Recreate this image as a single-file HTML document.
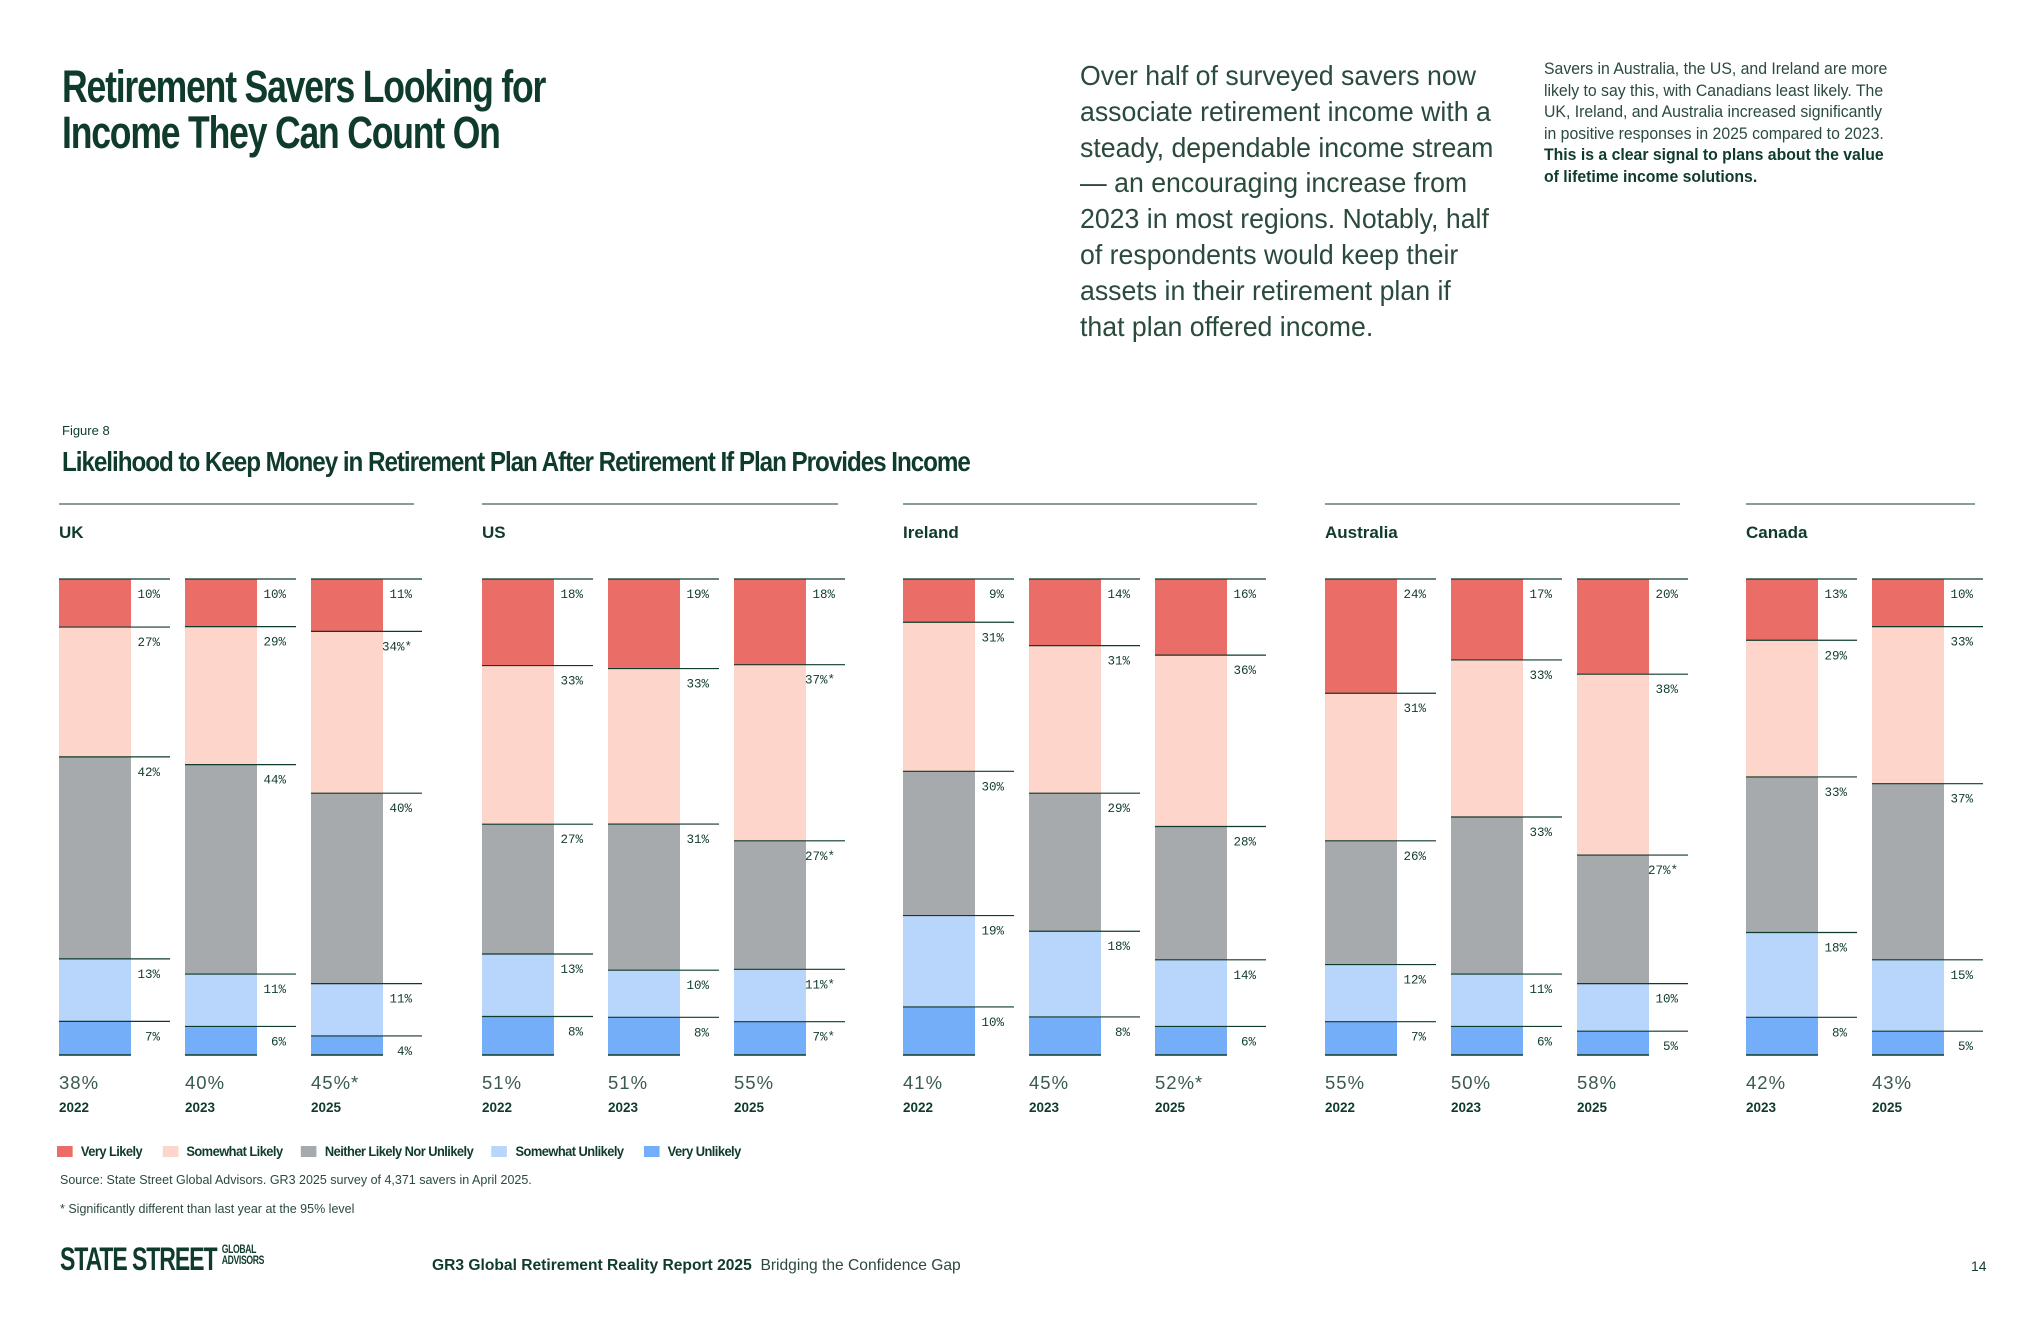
<!DOCTYPE html>
<html><head><meta charset="utf-8">
<style>
*{margin:0;padding:0;box-sizing:border-box}
body{width:2040px;height:1320px;background:#fff;position:relative;overflow:hidden;font-family:"Liberation Sans",sans-serif;color:#0f3b2b}
.abs{position:absolute}
.cond{font-family:"Liberation Sans Narrow","Liberation Sans",sans-serif;font-weight:bold;letter-spacing:-1px}
</style></head><body>
<div class="abs cond" style="left:62px;top:64px;font-size:45px;line-height:46px;letter-spacing:-1.5px;transform:scaleX(0.79);transform-origin:0 0;white-space:nowrap">Retirement Savers Looking for<br>Income They Can Count On</div>
<div class="abs" style="left:1080px;top:58px;font-size:27.8px;line-height:35.8px;color:#2a4a3c;white-space:nowrap;transform:scaleX(0.96);transform-origin:0 0">Over half of surveyed savers now<br>associate retirement income with a<br>steady, dependable income stream<br>— an encouraging increase from<br>2023 in most regions. Notably, half<br>of respondents would keep their<br>assets in their retirement plan if<br>that plan offered income.</div>
<div class="abs" style="left:1544px;top:59px;font-size:16.3px;line-height:21.6px;color:#2a4a3c;white-space:nowrap;transform:scaleX(0.97);transform-origin:0 0">Savers in Australia, the US, and Ireland are more<br>likely to say this, with Canadians least likely. The<br>UK, Ireland, and Australia increased significantly<br>in positive responses in 2025 compared to 2023.<br><b style="color:#0f3b2b">This is a clear signal to plans about the value<br>of lifetime income solutions.</b></div>
<div class="abs" style="left:62px;top:423px;font-size:13px">Figure 8</div>
<div class="abs cond" style="left:62px;top:446px;font-size:28px;letter-spacing:-1.2px;transform:scaleX(0.865);transform-origin:0 0;white-space:nowrap">Likelihood to Keep Money in Retirement Plan After Retirement If Plan Provides Income</div>
<svg id="chart" class="abs" style="left:0;top:0" width="2040" height="1320"></svg>
<div class="abs" style="left:57px;top:1143px;display:flex;font-size:15px;transform:scaleX(0.92);transform-origin:0 0;white-space:nowrap" id="legend"></div>
<div class="abs" style="left:60px;top:1173px;font-size:12.5px;color:#2a4a3c">Source: State Street Global Advisors. GR3 2025 survey of 4,371 savers in April 2025.</div>
<div class="abs" style="left:60px;top:1202px;font-size:12.5px;color:#2a4a3c">* Significantly different than last year at the 95% level</div>
<div class="abs cond" style="left:60px;top:1244px;font-size:32px;letter-spacing:-1.5px;line-height:30px;transform:scaleX(0.72);transform-origin:0 0;white-space:nowrap">STATE STREET <span style="display:inline-block;font-size:12px;line-height:11px;vertical-align:top;letter-spacing:-0.5px">GLOBAL<br>ADVISORS</span></div>
<div class="abs" style="left:432px;top:1257px;font-size:15.6px"><b>GR3 Global Retirement Reality Report 2025</b>&nbsp; <span style="color:#2a4a3c">Bridging the Confidence Gap</span></div>
<div class="abs" style="left:1971px;top:1258px;font-size:14px">14</div>
<script>
const countries=["UK","US","Ireland","Australia","Canada"];
const years=[["2022","2023","2025"],["2022","2023","2025"],["2022","2023","2025"],["2022","2023","2025"],["2023","2025"]];
const veryLikely=[[10,10,11],[18,19,18],[9,14,16],[24,17,20],[13,10]];
const somewhatLikely=[[27,29,34],[33,33,37],[31,31,36],[31,33,38],[29,33]];
const neither=[[42,44,40],[27,31,27],[30,29,28],[26,33,27],[33,37]];
const somewhatUnlikely=[[13,11,11],[13,10,11],[19,18,14],[12,11,10],[18,15]];
const veryUnlikely=[[7,6,4],[8,8,7],[10,8,6],[7,6,5],[8,5]];
const sigFlags=[[["","","","",""],["","","","",""],["","*","","",""]],[["","","","",""],["","","","",""],["","*","*","*","*"]],[["","","","",""],["","","","",""],["","","","",""]],[["","","","",""],["","","","",""],["","","*","",""]],[["","","","",""],["","","","",""]]];
const totals=[["38%","40%","45%*"],["51%","51%","55%"],["41%","45%","52%*"],["55%","50%","58%"],["42%","43%"]];
const seriesNames=["Very Likely","Somewhat Likely","Neither Likely Nor Unlikely","Somewhat Unlikely","Very Unlikely"];
const colors=["#EA6D68","#FDD5CA","#A7AAAD","#B8D5FC","#75AEF8"];
const NS="http://www.w3.org/2000/svg";
const svg=document.getElementById('chart');
const groupX=[59,482,903,1325,1746], groupW=[355,356,354,355,229];
const barW=72, step=126, yTop=579, yBottom=1055;
function yScale(frac){return yTop+frac*(yBottom-yTop);}
function mk(tag,attrs){const e=document.createElementNS(NS,tag);for(const k in attrs)e.setAttribute(k,attrs[k]);svg.appendChild(e);return e;}
countries.forEach((c,gi)=>{
  const gl=mk('line',{x1:groupX[gi],x2:groupX[gi]+groupW[gi],y1:504,y2:504,stroke:'#0f3b2b','stroke-width':1});
  
  
  const ct=mk('text',{x:groupX[gi],y:538,'font-size':17,'font-weight':'bold',fill:'#0f3b2b','font-family':'Liberation Sans'});
  ct.textContent=c;
  
  
  years[gi].forEach((yr,bi)=>{
    const vals=[veryLikely[gi][bi],somewhatLikely[gi][bi],neither[gi][bi],somewhatUnlikely[gi][bi],veryUnlikely[gi][bi]];
    const sum=vals.reduce((a,b)=>a+b,0);
    const x=groupX[gi]+bi*step;
    let acc=0;
    vals.forEach((v,si)=>{
      const y0=yScale(acc/sum), y1=yScale((acc+v)/sum);
      const r=mk('rect',{x:x,y:y0,width:barW,height:y1-y0,fill:colors[si]});
      
      
      const l=mk('line',{x1:x,x2:x+barW+39,y1:y0,y2:y0,stroke:'#0f3b2b','stroke-width':1.2});
      
      
      const t=mk('text',{x:x+101,y:y0+19,'font-size':12.5,fill:'#0f3b2b','text-anchor':'end','font-family':'Liberation Mono'});
      t.textContent=v+'%'+sigFlags[gi][bi][si];
      
      
      acc+=v;
    });
    const bl=mk('line',{x1:x,x2:x+barW,y1:yBottom,y2:yBottom,stroke:'#0f3b2b','stroke-width':1.5});
    
    
    const tt=mk('text',{x:x,y:1089,'font-size':18.5,fill:'#3a5a4c','font-family':'Liberation Sans','letter-spacing':'1'});
    tt.textContent=totals[gi][bi];
    
    
    const yt=mk('text',{x:x,y:1112,'font-size':13.5,'font-weight':'bold',fill:'#0f3b2b','font-family':'Liberation Sans'});
    yt.textContent=yr;
    
    
  });
});
const lg=document.getElementById('legend');
seriesNames.forEach((n,i)=>{
  const d=document.createElement('div');
  
  
  d.style.cssText='display:flex;align-items:center;margin-right:'+[22,20,20,22,0][i]+'px';
  d.innerHTML='<span style="display:inline-block;width:17px;height:11px;background:'+colors[i]+';margin-right:9px"></span><span style="font-weight:bold;font-size:14px;letter-spacing:-0.6px">'+n+'</span>';
  lg.appendChild(d);
});
</script>
</body></html>
